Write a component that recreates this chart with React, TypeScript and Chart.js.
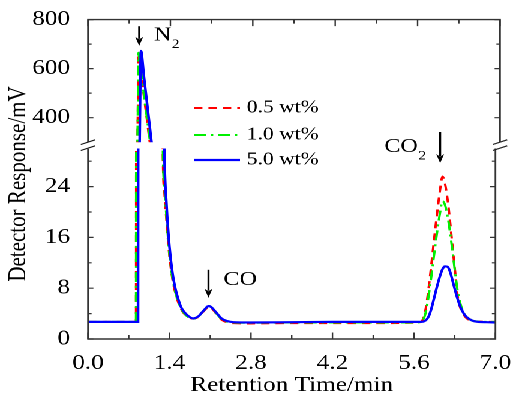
import React, { useEffect, useRef } from 'react';
import { Chart, registerables } from 'chart.js';

Chart.register(...registerables);

// ---------- data ----------
const timeMin = [
  0.0, 0.5, 0.8, 0.825, 0.835, 0.85, 0.86, 0.875, 0.9, 0.95,
  1.0, 1.05, 1.08, 1.2, 1.29, 1.31, 1.35, 1.4, 1.45, 1.5,
  1.55, 1.6, 1.65, 1.7, 1.8, 1.9, 1.95, 2.0, 2.05, 2.08,
  2.12, 2.2, 2.3, 2.4, 2.5, 2.8, 3.5, 4.2, 5.0, 5.6,
  5.72, 5.78, 5.82, 5.86, 5.9, 5.95, 6.0, 6.05, 6.09, 6.13,
  6.18, 6.22, 6.26, 6.3, 6.35, 6.4, 6.45, 6.5, 6.6, 6.7,
  6.85, 7.0,
];

const signal05 = [
  2.7, 2.7, 2.7, 2.7, 190, 472, 660, 632, 584, 489,
  395, 300, 250, 110, 27, 23.5, 18.5, 13.0, 9.5, 7.3,
  5.8, 4.7, 4.0, 3.6, 3.2, 3.5, 4.0, 4.5, 4.95, 5.1,
  4.9, 4.0, 3.0, 2.6, 2.5, 2.45, 2.5, 2.5, 2.5, 2.55,
  2.7, 3.8, 5.8, 8.6, 11.8, 16.0, 20.0, 23.6, 25.6, 24.6,
  21.8, 18.5, 14.8, 11.2, 6.8, 4.8, 3.9, 3.3, 2.85, 2.75,
  2.7, 2.7,
];

const signal10 = [
  2.7, 2.7, 2.7, 2.7, 190, 475, 665, 636, 590, 496,
  402, 310, 255, 112, 28, 24.5, 19, 13.3, 9.7, 7.4,
  5.9, 4.8, 4.1, 3.6, 3.2, 3.55, 4.1, 4.6, 5.05, 5.2,
  5.0, 4.1, 3.1, 2.7, 2.6, 2.55, 2.6, 2.6, 2.6, 2.6,
  2.7, 3.5, 5.0, 7.3, 10.0, 13.6, 17.0, 20.0, 21.7, 21.2,
  19.2, 16.8, 14.0, 11.0, 7.6, 5.5, 4.2, 3.5, 2.9, 2.75,
  2.7, 2.7,
];

const signal50 = [
  2.7, 2.7, 2.7, 2.7, 2.7, 2.7, 2.7, 254, 672, 569,
  465, 362, 300, 140, 45, 30, 21, 14.5, 10.5, 8.0,
  6.3, 5.0, 4.3, 3.8, 3.25, 3.6, 4.1, 4.6, 5.1, 5.2,
  5.0, 4.2, 3.2, 2.8, 2.65, 2.6, 2.65, 2.7, 2.7, 2.7,
  2.7, 2.8, 3.1, 3.7, 4.8, 6.6, 8.4, 10.0, 11.0, 11.45,
  11.35, 10.6, 9.3, 7.9, 6.3, 5.0, 4.1, 3.5, 2.9, 2.7,
  2.65, 2.6,
];

const seriesLabels = ['0.5 wt%', '1.0 wt%', '5.0 wt%'];

const xTickValues = [0, 1.4, 2.8, 4.2, 5.6, 7.0];
const xMinorValues = [0.7, 2.1, 3.5, 4.9, 6.3];
const upperTickValues = [400, 600, 800];
const upperMinorValues = [500, 700];
const lowerTickValues = [0, 8, 16, 24];
const lowerMinorValues = [4, 12, 20, 28];

// annotation anchors (data space)
const n2Arrow = { t: 0.87, from: 773, to: 693 };
const coArrow = { t: 2.07, from: 10.9, to: 6.5 };
const co2Arrow = { t: 6.05, from: 32.6, to: 27.7 };

// ---------- styling / layout ----------
const FONT = "'Liberation Serif', 'Times New Roman', serif";
const W = 430;
const H = 403;
const STRETCH = 516 / W;
const PLOT_LEFT = 73.33;
const PLOT_RIGHT = 416.67;
const UPPER_TOP = 16;
const UPPER_BOTTOM = 142.2;
const LOWER_TOP = 148.5;
const LOWER_BOTTOM = 339;
const FRAME = '#333333';
const COLORS = ['#ff0000', '#00f000', '#0000ff'];
const WIDTHS = [2, 2, 2.2];
const DASHES: number[][] = [[7, 5], [10, 4, 2, 4], []];
const ORDERS = [2, 1, 0];

function makeDatasets() {
  const series = [signal05, signal10, signal50];
  return series.map((s, i) => ({
    label: seriesLabels[i],
    data: timeMin.map((t, j) => ({ x: t, y: s[j] })),
    borderColor: COLORS[i],
    borderWidth: WIDTHS[i],
    borderDash: DASHES[i],
    pointRadius: 0,
    fill: false,
    cubicInterpolationMode: 'monotone' as const,
    order: ORDERS[i],
    clip: 0,
  }));
}

function drawFrame(chart: any, part: 'upper' | 'lower') {
  const { ctx, chartArea: a, scales } = chart;
  const x = scales.x;
  const y = scales.y;
  ctx.save();
  ctx.strokeStyle = FRAME;
  ctx.lineWidth = 1.4;
  ctx.setLineDash([]);
  ctx.beginPath();
  if (part === 'upper') {
    ctx.moveTo(a.left, a.bottom);
    ctx.lineTo(a.left, a.top);
    ctx.lineTo(a.right, a.top);
    ctx.lineTo(a.right, a.bottom);
  } else {
    ctx.moveTo(a.left, a.top);
    ctx.lineTo(a.left, a.bottom);
    ctx.lineTo(a.right, a.bottom);
    ctx.lineTo(a.right, a.top);
  }
  ctx.stroke();

  ctx.lineWidth = 1.2;
  ctx.beginPath();
  const yMajor = part === 'upper' ? upperTickValues : lowerTickValues;
  const yMinor = part === 'upper' ? upperMinorValues : lowerMinorValues;
  const yTick = (v: number, len: number) => {
    const py = y.getPixelForValue(v);
    ctx.moveTo(a.left, py);
    ctx.lineTo(a.left + len, py);
    ctx.moveTo(a.right, py);
    ctx.lineTo(a.right - len, py);
  };
  yMajor.forEach((v) => yTick(v, 4.5));
  yMinor.forEach((v) => yTick(v, 3));
  const edge = part === 'upper' ? a.top : a.bottom;
  const dir = part === 'upper' ? 1 : -1;
  const xTick = (v: number, len: number) => {
    const px = x.getPixelForValue(v);
    ctx.moveTo(px, edge);
    ctx.lineTo(px, edge + dir * len);
  };
  xTickValues.forEach((v) => xTick(v, 6.5));
  xMinorValues.forEach((v) => xTick(v, 4));
  ctx.stroke();
  ctx.restore();
}

function drawBreaks(ctx: CanvasRenderingContext2D) {
  ctx.save();
  ctx.strokeStyle = '#222';
  ctx.lineWidth = 1.2;
  ctx.beginPath();
  [PLOT_LEFT, PLOT_RIGHT].forEach((cx) => {
    ctx.moveTo(cx - 6, 144.5);
    ctx.lineTo(cx + 6, 139.8);
    ctx.moveTo(cx - 6, 150.5);
    ctx.lineTo(cx + 6, 145.8);
  });
  ctx.stroke();
  ctx.restore();
}

function drawArrow(ctx: CanvasRenderingContext2D, px: number, y1: number, y2: number) {
  const head = 9;
  const half = 3.3;
  ctx.save();
  ctx.strokeStyle = '#000';
  ctx.fillStyle = '#000';
  ctx.lineWidth = 1.7;
  ctx.setLineDash([]);
  ctx.beginPath();
  ctx.moveTo(px, y1);
  ctx.lineTo(px, y2 - head + 2);
  ctx.stroke();
  ctx.beginPath();
  ctx.moveTo(px - half, y2 - head);
  ctx.lineTo(px, y2 - head + 2.5);
  ctx.lineTo(px + half, y2 - head);
  ctx.lineTo(px, y2);
  ctx.closePath();
  ctx.fill();
  ctx.restore();
}

function drawLabel(ctx: CanvasRenderingContext2D, text: string, sub: string, x: number, y: number) {
  ctx.save();
  ctx.fillStyle = '#000';
  ctx.textAlign = 'left';
  ctx.textBaseline = 'alphabetic';
  ctx.font = `20px ${FONT}`;
  const w = ctx.measureText(text).width;
  ctx.fillText(text, x, y);
  if (sub) {
    ctx.font = `13px ${FONT}`;
    ctx.fillText(sub, x + w + 0.5, y + 7.5);
  }
  ctx.restore();
}

const upperDecor = {
  id: 'upperDecor',
  afterDraw(chart: any) {
    const { ctx, scales } = chart;
    drawFrame(chart, 'upper');
    drawBreaks(ctx);

    // y axis title
    ctx.save();
    ctx.fillStyle = '#000';
    ctx.font = `21px ${FONT}`;
    ctx.textAlign = 'center';
    ctx.textBaseline = 'alphabetic';
    ctx.translate(21, 184);
    ctx.rotate(-Math.PI / 2);
    ctx.fillText('Detector Response/mV', 0, 0);
    ctx.restore();

    // N2 annotation
    const ax = scales.x.getPixelForValue(n2Arrow.t);
    const y1 = scales.y.getPixelForValue(n2Arrow.from);
    const y2 = scales.y.getPixelForValue(n2Arrow.to);
    drawArrow(ctx, ax, y1, y2);
    drawLabel(ctx, 'N', '2', ax + 12.2, y1 + 14.5);

    // legend
    const legendY = [108, 135, 160];
    ctx.save();
    seriesLabels.forEach((lab, i) => {
      ctx.strokeStyle = COLORS[i];
      ctx.lineWidth = WIDTHS[i];
      ctx.setLineDash(DASHES[i]);
      ctx.beginPath();
      ctx.moveTo(161.7, legendY[i]);
      ctx.lineTo(200, legendY[i]);
      ctx.stroke();
      ctx.setLineDash([]);
      ctx.fillStyle = '#000';
      ctx.font = `18px ${FONT}`;
      ctx.textAlign = 'left';
      ctx.textBaseline = 'middle';
      ctx.fillText(lab, 205.6, legendY[i]);
    });
    ctx.restore();
  },
};

const lowerDecor = {
  id: 'lowerDecor',
  afterDraw(chart: any) {
    const { ctx, scales } = chart;
    drawFrame(chart, 'lower');

    const cx = scales.x.getPixelForValue(coArrow.t);
    const cy1 = scales.y.getPixelForValue(coArrow.from);
    const cy2 = scales.y.getPixelForValue(coArrow.to);
    drawArrow(ctx, cx, cy1, cy2);
    drawLabel(ctx, 'CO', '', cx + 12.5, cy1 + 15);

    const dx = scales.x.getPixelForValue(co2Arrow.t);
    const dy1 = scales.y.getPixelForValue(co2Arrow.from);
    const dy2 = scales.y.getPixelForValue(co2Arrow.to);
    drawArrow(ctx, dx, dy1, dy2);
    drawLabel(ctx, 'CO', '2', dx - 46.4, dy1 + 20);
  },
};

const tickFont = { family: FONT, size: 21 };

function upperConfig(): any {
  return {
    type: 'line',
    data: { datasets: makeDatasets() },
    options: {
      animation: false,
      responsive: false,
      devicePixelRatio: 2,
      events: [],
      layout: { padding: { top: UPPER_TOP, bottom: H - UPPER_BOTTOM, left: 0, right: W - PLOT_RIGHT } },
      plugins: { legend: { display: false }, tooltip: { enabled: false } },
      scales: {
        x: { type: 'linear', min: 0, max: 7, display: false },
        y: {
          type: 'linear',
          min: 300,
          max: 800,
          position: 'left',
          afterFit: (s: any) => { s.width = PLOT_LEFT; },
          afterBuildTicks: (s: any) => { s.ticks = upperTickValues.map((v) => ({ value: v })); },
          grid: { display: false },
          border: { display: false },
          ticks: { padding: 7, font: tickFont, color: '#000' },
        },
      },
    },
    plugins: [upperDecor],
  };
}

function lowerConfig(): any {
  return {
    type: 'line',
    data: { datasets: makeDatasets() },
    options: {
      animation: false,
      responsive: false,
      devicePixelRatio: 2,
      events: [],
      layout: { padding: { top: LOWER_TOP, bottom: 0, left: 0, right: W - PLOT_RIGHT } },
      plugins: { legend: { display: false }, tooltip: { enabled: false } },
      scales: {
        x: {
          type: 'linear',
          min: 0,
          max: 7,
          position: 'bottom',
          afterFit: (s: any) => { s.height = H - LOWER_BOTTOM; },
          afterBuildTicks: (s: any) => { s.ticks = xTickValues.map((v) => ({ value: v })); },
          grid: { display: false },
          border: { display: false },
          ticks: {
            padding: 4,
            font: tickFont,
            color: '#000',
            maxRotation: 0,
            autoSkip: false,
            callback: (v: any) => Number(v).toFixed(1),
          },
          title: {
            display: true,
            text: 'Retention Time/min',
            color: '#000',
            font: { family: FONT, size: 21 },
            padding: { top: 0, bottom: 5 },
          },
        },
        y: {
          type: 'linear',
          min: 0,
          max: 30,
          position: 'left',
          afterFit: (s: any) => { s.width = PLOT_LEFT; },
          afterBuildTicks: (s: any) => { s.ticks = lowerTickValues.map((v) => ({ value: v })); },
          grid: { display: false },
          border: { display: false },
          ticks: { padding: 7, font: tickFont, color: '#000' },
        },
      },
    },
    plugins: [lowerDecor],
  };
}

export default function App() {
  const upperRef = useRef<HTMLCanvasElement>(null);
  const lowerRef = useRef<HTMLCanvasElement>(null);

  useEffect(() => {
    const lower = new Chart(lowerRef.current as HTMLCanvasElement, lowerConfig());
    const upper = new Chart(upperRef.current as HTMLCanvasElement, upperConfig());
    return () => {
      upper.destroy();
      lower.destroy();
    };
  }, []);

  const canvasStyle: React.CSSProperties = {
    position: 'absolute',
    left: 0,
    top: 0,
    width: W,
    height: H,
  };

  return (
    <div
      style={{
        position: 'fixed',
        left: 0,
        top: 0,
        width: W,
        height: H,
        background: '#fff',
        transform: `scaleX(${STRETCH})`,
        transformOrigin: '0 0',
      }}
    >
      <canvas ref={lowerRef} width={W} height={H} style={canvasStyle} />
      <canvas ref={upperRef} width={W} height={H} style={canvasStyle} />
    </div>
  );
}
